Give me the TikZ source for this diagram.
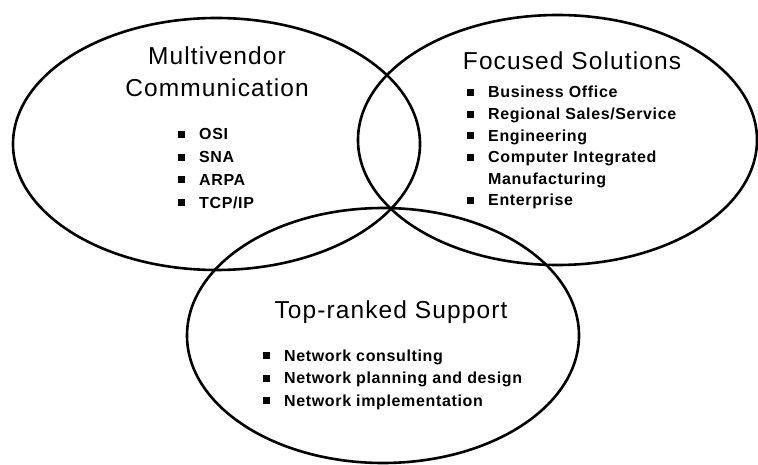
\documentclass[tikz,border=0pt]{standalone}
\usepackage{fontspec}
\setmainfont{Liberation Sans}
\newfontfamily\headfont[LetterSpace=4.5]{Liberation Sans}
\newfontfamily\itemfont[LetterSpace=4]{Liberation Sans}
\usetikzlibrary{shapes.geometric}
\newcommand{\sqbul}{\rule[2pt]{7pt}{7pt}}

\begin{document}
\begin{tikzpicture}[
  x=1pt, y=-1pt,
  blob/.style={draw, ellipse, line width=2.6pt, inner sep=0pt},
  head/.style={font=\fontsize{24.5}{32}\headfont, align=center, anchor=base, inner sep=0pt},
  items/.style={font=\fontsize{16}{#1}\itemfont\bfseries, anchor=base west, inner sep=0pt}
]
\useasboundingbox (0,0) rectangle (758,465);
% the three circles
\node[blob, minimum width=407pt, minimum height=252pt] (multi) at (216.5,144) {};
\node[blob, minimum width=399pt, minimum height=250pt] (focus) at (557.5,140) {};
\node[blob, minimum width=392pt, minimum height=255pt] (support) at (383,335.5) {};
% headings
\node[head] (multihead) at (217,97) {Multivendor\\Communication};
\node[head] (focushead) at (572,70) {Focused Solutions};
\node[head] (supporthead) at (391,318) {Top-ranked Support};
% item lists
\node[items=22.7] (multilist) at (178,140) {\begin{tabular}[t]{@{}l@{\hspace{14pt}}l@{}}
  \sqbul & OSI\\
  \sqbul & SNA\\
  \sqbul & ARPA\\
  \sqbul & TCP/IP
\end{tabular}};
\node[items=21.6] (focuslist) at (467,98) {\begin{tabular}[t]{@{}l@{\hspace{14pt}}l@{}}
  \sqbul & Business Office\\
  \sqbul & Regional Sales/Service\\
  \sqbul & Engineering\\
  \sqbul & Computer Integrated\\
         & Manufacturing\\
  \sqbul & Enterprise
\end{tabular}};
\node[items=22.5] (supportlist) at (263,361) {\begin{tabular}[t]{@{}l@{\hspace{14pt}}l@{}}
  \sqbul & Network consulting\\
  \sqbul & Network planning and design\\
  \sqbul & Network implementation
\end{tabular}};
\end{tikzpicture}
\end{document}
